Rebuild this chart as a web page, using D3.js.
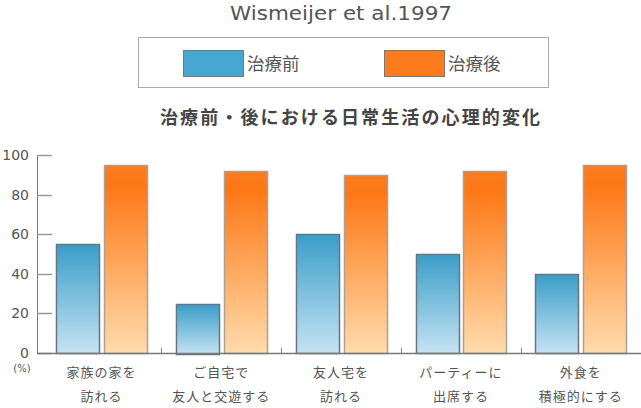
<!DOCTYPE html>
<html><head><meta charset="utf-8">
<script src="https://cdn.jsdelivr.net/npm/d3@7"></script>
<style>body{margin:0;background:#fff;} svg{display:block;}</style>
</head><body>
<svg id="c" width="641" height="408"></svg>
<script>
const categories = [["家族の家を","訪れる"],["ご自宅で","友人と交遊する"],["友人宅を","訪れる"],["パーティーに","出席する"],["外食を","積極的にする"]];
const seriesNames = ["治療前","治療後"];
const before = [55,25,60,50,40];
const after = [95,92,90,92,95];
const yTicks = [0,20,40,60,80,100];

const svg = d3.select("#c");
const jp = "'Noto Sans CJK JP','Noto Sans',sans-serif";
const lat = "'DejaVu Sans','Noto Sans',sans-serif";
const defs = svg.append("defs");
const gB = defs.append("linearGradient").attr("id","gB").attr("x1",0).attr("y1",0).attr("x2",0).attr("y2",1);
gB.append("stop").attr("offset","0%").attr("stop-color","#3a9dc8");
gB.append("stop").attr("offset","100%").attr("stop-color","#c5e3f3");
const gO = defs.append("linearGradient").attr("id","gO").attr("x1",0).attr("y1",0).attr("x2",0).attr("y2",1);
gO.append("stop").attr("offset","0%").attr("stop-color","#fa7c20");
gO.append("stop").attr("offset","10%").attr("stop-color","#fe7715");
gO.append("stop").attr("offset","100%").attr("stop-color","#ffdcac");

// title
svg.append("text").attr("x",230).attr("y",20)
  .attr("font-family",lat).attr("font-size",19).attr("fill","#555")
  .attr("textLength",222).attr("lengthAdjust","spacingAndGlyphs")
  .text("Wismeijer et al.1997");
// legend
svg.append("rect").attr("x",138.5).attr("y",37.5).attr("width",410).attr("height",50).attr("fill","#fff").attr("stroke","#aaa");
const legend = [{x:183,fill:"#46a7d1",name:seriesNames[0]},{x:384,fill:"#fd7b1c",name:seriesNames[1]}];
legend.forEach(l=>{
  svg.append("rect").attr("x",l.x+0.5).attr("y",50.5).attr("width",60).attr("height",26).attr("fill",l.fill).attr("stroke","#777");
  svg.append("text").attr("x",l.x+64).attr("y",70).attr("font-family",jp).attr("font-size",17.5).attr("fill","#555")
    .text(l.name);
});
// subtitle
svg.append("text").attr("x",160).attr("y",124)
  .attr("font-family",jp).attr("font-size",18).attr("font-weight","bold").attr("fill","#444")
  .attr("textLength",380).attr("lengthAdjust","spacing")
  .text("治療前・後における日常生活の心理的変化");

const y = d3.scaleLinear().domain([0,100]).range([353,155]);
const x = d3.scaleBand().domain(d3.range(categories.length)).range([41.6,640.6]).paddingInner(0).paddingOuter(0);
const xs = d3.scaleBand().domain([0,1]).range([14.5,105.5]).paddingInner(0.1);

// y axis
const ya = svg.append("g").attr("transform","translate(37,0)");
ya.append("line").attr("x1",0.5).attr("x2",0.5).attr("y1",y(100)).attr("y2",y(0)).attr("stroke","#777");
yTicks.forEach(t=>{
  ya.append("line").attr("x1",0).attr("x2",15).attr("y1",Math.round(y(t))+0.5).attr("y2",Math.round(y(t))+0.5).attr("stroke","#999").attr("stroke-width",1.5);
  ya.append("text").attr("x",-8).attr("y",y(t)+5).attr("text-anchor","end").attr("font-family",lat).attr("font-size",14).attr("fill","#555").text(t);
});
svg.append("text").attr("x",22).attr("y",372).attr("text-anchor","middle").attr("font-family",lat).attr("font-size",10).attr("fill","#555").text("(%)");

// bars
const g = svg.append("g");
categories.forEach((c,i)=>{
  const x0 = x(i);
  const vals=[before[i],after[i]];
  vals.forEach((v,j)=>{
    g.append("rect").attr("x",Math.round(x0+xs(j))+0.5).attr("y",Math.round(y(v))+0.5)
     .attr("width",Math.round(xs.bandwidth())).attr("height",Math.round(y(0)-y(v)))
     .attr("fill",j===0?"url(#gB)":"url(#gO)")
     .attr("stroke",j===0?"#6a7580":"#aaa097").attr("stroke-width",1.5);
  });
  const cx = x0 + x.bandwidth()/2;
  c.forEach((line,k)=>{
    svg.append("text").attr("x",cx).attr("y",377+k*24).attr("text-anchor","middle")
      .attr("font-family",jp).attr("font-size",13).attr("letter-spacing",1).attr("fill","#555").text(line);
  });
});
// x axis
svg.append("line").attr("x1",37).attr("x2",641).attr("y1",353.5).attr("y2",353.5).attr("stroke","#777").attr("stroke-width",1.5);
d3.range(1,categories.length+1).forEach(i=>{
  const xx = Math.round(i<categories.length ? x(i) : x.range()[1]);
  svg.append("line").attr("x1",xx+0.5).attr("x2",xx+0.5).attr("y1",348).attr("y2",353).attr("stroke","#888");
});
</script>
</body></html>
